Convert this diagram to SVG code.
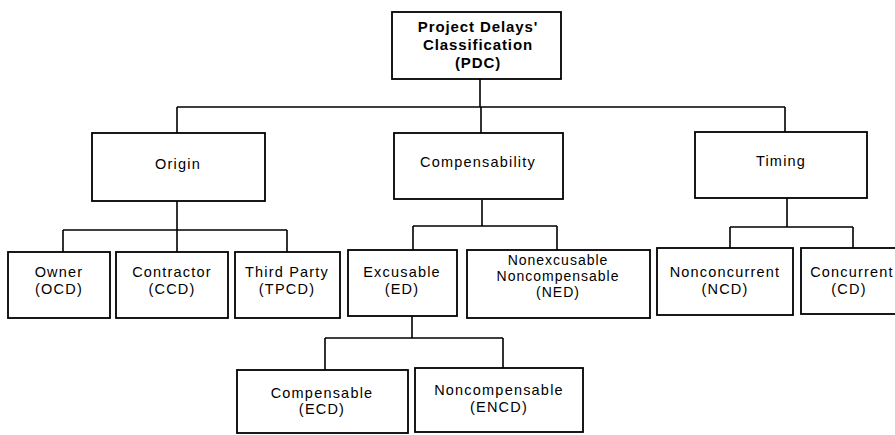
<svg xmlns="http://www.w3.org/2000/svg" width="895" height="435" viewBox="0 0 895 435">
<style>
.box{fill:#fff;stroke:#000;stroke-width:1.8}
.ln{fill:none;stroke:#000;stroke-width:1.6}
text{font-family:"Liberation Sans",Arial,sans-serif;font-size:14.5px;letter-spacing:1.2px;fill:#000;text-anchor:middle}
.root{font-weight:bold;font-size:15px;letter-spacing:0.9px}
.tight{font-size:14px;letter-spacing:1px}
</style>
<rect width="895" height="435" fill="#fff"/>
<g id="connectors">
<path class="ln" d="M480 79V107M177 107H785M177 107V133M481 107V133M785 107V132"/>
<path class="ln" d="M177 200V230M63 230H287M63 230V252M177 230V252M287 230V252"/>
<path class="ln" d="M482 200V226M413 226H557M413 226V250M557 226V250"/>
<path class="ln" d="M787 198V227M730 227H853M730 227V248M853 227V248"/>
<path class="ln" d="M412 316V338M325 338H503M325 338V370M503 338V368"/>
</g>
<g id="pdc"><rect class="box" x="392" y="12" width="169" height="67"/>
<text class="root" x="478" y="32">Project Delays'</text><text class="root" x="478" y="50">Classification</text><text class="root" x="478" y="68">(PDC)</text></g>
<g id="origin"><rect class="box" x="92" y="133" width="173" height="68"/><text x="178" y="169">Origin</text></g>
<g id="compensability"><rect class="box" x="394" y="133" width="169" height="66"/><text x="478" y="167">Compensability</text></g>
<g id="timing"><rect class="box" x="695" y="132" width="172" height="66"/><text x="781" y="166">Timing</text></g>
<g id="ocd"><rect class="box" x="8" y="252" width="102" height="66"/><text x="59" y="277">Owner</text><text x="59" y="294">(OCD)</text></g>
<g id="ccd"><rect class="box" x="116" y="252" width="112" height="66"/><text x="172" y="277">Contractor</text><text x="172" y="294">(CCD)</text></g>
<g id="tpcd"><rect class="box" x="235" y="252" width="105" height="66"/><text x="287" y="277">Third Party</text><text x="287" y="294">(TPCD)</text></g>
<g id="ed"><rect class="box" x="348" y="250" width="109" height="66"/><text x="402" y="277">Excusable</text><text x="402" y="294">(ED)</text></g>
<g id="ned"><rect class="box" x="467" y="250" width="183" height="68"/><text class="tight" x="558" y="265">Nonexcusable</text><text class="tight" x="558" y="281">Noncompensable</text><text class="tight" x="558" y="297">(NED)</text></g>
<g id="ncd"><rect class="box" x="657" y="248" width="136" height="67"/><text x="725" y="277">Nonconcurrent</text><text x="725" y="294">(NCD)</text></g>
<g id="cd"><rect class="box" x="801" y="248" width="100" height="66"/><text x="852" y="277">Concurrent</text><text x="849" y="294">(CD)</text></g>
<g id="ecd"><rect class="box" x="237" y="370" width="171" height="63"/><text x="322" y="398">Compensable</text><text x="322" y="414">(ECD)</text></g>
<g id="encd"><rect class="box" x="415" y="368" width="168" height="64"/><text x="499" y="395">Noncompensable</text><text x="499" y="412">(ENCD)</text></g>
</svg>
